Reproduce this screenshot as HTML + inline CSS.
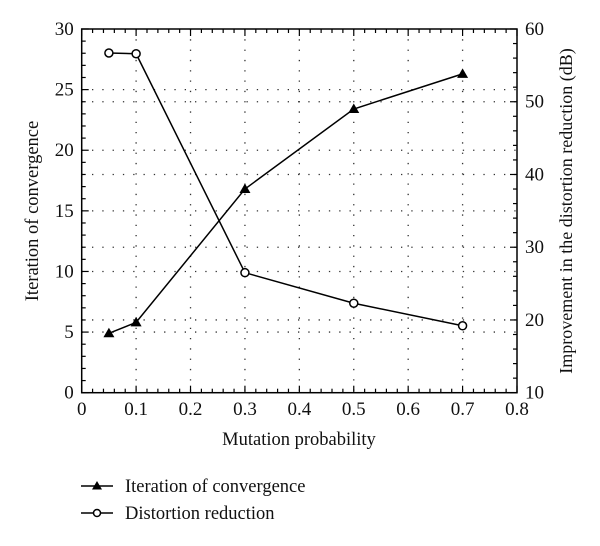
<!DOCTYPE html>
<html><head><meta charset="utf-8"><style>
html,body{margin:0;padding:0;background:#fff;}
svg text{font-family:"Liberation Serif",serif;fill:#111;}
</style></head><body>
<svg id="chart" width="600" height="541" xmlns="http://www.w3.org/2000/svg">
<g id="grid"></g>
<g id="axes"></g>
<g id="series"></g>
<text x="299" y="445" font-size="18.5" text-anchor="middle">Mutation probability</text>
<text transform="translate(38,211) rotate(-90)" font-size="18.5" text-anchor="middle">Iteration of convergence</text>
<text transform="translate(572,211) rotate(-90)" font-size="18" text-anchor="middle">Improvement in the distortion reduction (dB)</text>
<g>
<g>
<line x1="81" y1="486" x2="113" y2="486" stroke="#000" stroke-width="1.5"/>
<polygon points="97,481 102,489.5 92,489.5" fill="#000"/>
<text x="125" y="492" font-size="18.5">Iteration of convergence</text>
</g>
<g>
<line x1="81" y1="513" x2="113" y2="513" stroke="#000" stroke-width="1.5"/>
<circle cx="97" cy="513" r="3.5" fill="#fff" stroke="#000" stroke-width="1.5"/>
<text x="125" y="519" font-size="18.5">Distortion reduction</text>
</g>
</g>
</svg>
<script>
const xValues=[0.05,0.1,0.3,0.5,0.7];
const iterationValues=[4.9,5.8,16.8,23.4,26.3];
const distortionValues=[56.7,56.6,26.5,22.3,19.2];
const xTicks=[0,0.1,0.2,0.3,0.4,0.5,0.6,0.7,0.8];
const xTickLabels=["0","0.1","0.2","0.3","0.4","0.5","0.6","0.7","0.8"];
const leftTicks=[0,5,10,15,20,25,30];
const rightTicks=[10,20,30,40,50,60];

const L=81.7,R=517,T=29,B=392.7;
const NS="http://www.w3.org/2000/svg";
const xs=v=>L+(v-0)/0.8*(R-L);
const yl=v=>B-(v/30)*(B-T);
const yr=v=>B-((v-10)/50)*(B-T);
function mk(tag,attrs,parent){const e=document.createElementNS(NS,tag);for(const k in attrs)e.setAttribute(k,attrs[k]);parent.appendChild(e);return e;}
const grid=document.getElementById('grid'),axes=document.getElementById('axes'),series=document.getElementById('series');

xTicks.slice(1,-1).forEach(v=>{const g=mk('line',{x1:xs(v),x2:xs(v),y1:T,y2:B,stroke:'#333','stroke-width':1.3,'stroke-dasharray':'1.3 9'},grid);

});
leftTicks.slice(1,-1).forEach(v=>{const g=mk('line',{x1:L,x2:R,y1:yl(v),y2:yl(v),stroke:'#333','stroke-width':1.3,'stroke-dasharray':'1.3 9'},grid);

});
rightTicks.slice(1,-1).forEach(v=>{const g=mk('line',{x1:L,x2:R,y1:yr(v),y2:yr(v),stroke:'#333','stroke-width':1.3,'stroke-dasharray':'1.3 9'},grid);

});

const fr=mk('rect',{x:L,y:T,width:R-L,height:B-T,fill:'none',stroke:'#000','stroke-width':1.5},axes);



for(let i=0;i<=40;i++){const v=i*0.02;const len=(i%5===0)?7:4;
mk('line',{x1:xs(v),x2:xs(v),y1:B,y2:B-len,stroke:'#000','stroke-width':1.2},axes);
mk('line',{x1:xs(v),x2:xs(v),y1:T,y2:T+len,stroke:'#000','stroke-width':1.2},axes);}
xTicks.forEach((v,i)=>{const t=mk('text',{x:xs(v),y:415,'font-size':19,'text-anchor':'middle'},axes);t.textContent=xTickLabels[i];

});
for(let i=0;i<=30;i++){const len=(i%5===0)?7:4;mk('line',{x1:L,x2:L+len,y1:yl(i),y2:yl(i),stroke:'#000','stroke-width':1.2},axes);}
leftTicks.forEach(v=>{const t=mk('text',{x:L-8,y:yl(v)+6,'font-size':19,'text-anchor':'end'},axes);t.textContent=v;

});
for(let i=10;i<=60;i+=2){const len=(i%10===0)?7:4;mk('line',{x1:R,x2:R-len,y1:yr(i),y2:yr(i),stroke:'#000','stroke-width':1.2},axes);}
rightTicks.forEach(v=>{const t=mk('text',{x:R+8,y:yr(v)+6,'font-size':19,'text-anchor':'start'},axes);t.textContent=v;

});

const p1=mk('polyline',{points:xValues.map((x,i)=>xs(x)+','+yl(iterationValues[i])).join(' '),fill:'none',stroke:'#000','stroke-width':1.5},series);


xValues.forEach((x,i)=>{const cx=xs(x),cy=yl(iterationValues[i]);
const m=mk('polygon',{points:`${cx},${cy-5.5} ${cx+5.5},${cy+4} ${cx-5.5},${cy+4}`,fill:'#000'},series);

});
const p2=mk('polyline',{points:xValues.map((x,i)=>xs(x)+','+yr(distortionValues[i])).join(' '),fill:'none',stroke:'#000','stroke-width':1.5},series);


xValues.forEach((x,i)=>{const m=mk('circle',{cx:xs(x),cy:yr(distortionValues[i]),r:4,fill:'#fff',stroke:'#000','stroke-width':1.5},series);

});
</script>
</body></html>
